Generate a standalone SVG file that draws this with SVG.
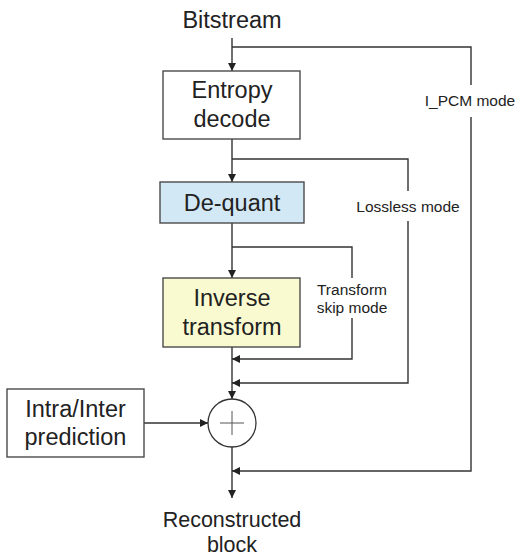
<svg xmlns="http://www.w3.org/2000/svg" width="520" height="557" viewBox="0 0 520 557">
  <style>
    .box { stroke: #4a4a4a; stroke-width: 1.4; }
    .wire { fill: none; stroke: #333; stroke-width: 1.4; }
    .big { font-family: "Liberation Sans", Arial, sans-serif; font-size: 23.5px; fill: #222; text-anchor: middle; }
    .out { font-size: 21.5px; }
    .small { font-family: "Liberation Sans", Arial, sans-serif; font-size: 15.5px; fill: #222; text-anchor: middle; }
  </style>
  <defs>
    <marker id="arrow" viewBox="0 0 10 10" refX="10" refY="5" markerWidth="8" markerHeight="8" markerUnits="userSpaceOnUse" orient="auto">
      <path d="M0,0 L10,5 L0,10 Z" fill="#222"/>
    </marker>
  </defs>
  <rect width="520" height="557" fill="#fff"/>

  <text class="big" x="232" y="28">Bitstream</text>

  <g id="connectors">
    <!-- main decoding path -->
    <line class="wire" x1="232" y1="38" x2="232" y2="71" marker-end="url(#arrow)"/>
    <line class="wire" x1="232" y1="139" x2="232" y2="182" marker-end="url(#arrow)"/>
    <line class="wire" x1="232" y1="223" x2="232" y2="278" marker-end="url(#arrow)"/>
    <line class="wire" x1="232" y1="347" x2="232" y2="399" marker-end="url(#arrow)"/>
    <line class="wire" x1="232" y1="447" x2="232" y2="498" marker-end="url(#arrow)"/>
    <!-- prediction into adder -->
    <line class="wire" x1="144" y1="423" x2="208" y2="423" marker-end="url(#arrow)"/>
    <!-- I_PCM bypass -->
    <polyline class="wire" points="232,47 471,47 471,85"/>
    <polyline class="wire" points="471,117 471,471 232,471" marker-end="url(#arrow)"/>
    <!-- lossless bypass -->
    <polyline class="wire" points="232,159 408,159 408,191"/>
    <polyline class="wire" points="408,221 408,383 232,383" marker-end="url(#arrow)"/>
    <!-- transform skip bypass -->
    <polyline class="wire" points="232,247 352,247 352,278"/>
    <polyline class="wire" points="352,318 352,359 232,359" marker-end="url(#arrow)"/>
  </g>

  <g id="entropy-decode">
    <rect class="box" x="163" y="71" width="137" height="68" fill="#fff"/>
    <text class="big" x="232" y="98">Entropy</text>
    <text class="big" x="232" y="127">decode</text>
  </g>

  <g id="de-quant">
    <rect class="box" x="160" y="182" width="144" height="41" fill="#d3e8f5"/>
    <text class="big" x="232" y="211">De-quant</text>
  </g>

  <g id="inverse-transform">
    <rect class="box" x="163" y="278" width="137" height="69" fill="#fafad0"/>
    <text class="big" x="232" y="306">Inverse</text>
    <text class="big" x="232" y="335">transform</text>
  </g>

  <g id="intra-inter-prediction">
    <rect class="box" x="7" y="389" width="137" height="68" fill="#fff"/>
    <text class="big" x="75.5" y="417">Intra/Inter</text>
    <text class="big" x="75.5" y="445">prediction</text>
  </g>

  <g id="adder">
    <circle cx="232" cy="423" r="24" fill="#fff" stroke="#333" stroke-width="1.3"/>
    <path d="M220,423 H244 M232,411 V435" stroke="#555" stroke-width="1" fill="none"/>
  </g>

  <g id="labels">
    <text class="small" x="470" y="106">I_PCM mode</text>
    <text class="small" x="408" y="212">Lossless mode</text>
    <text class="small" x="352" y="295">Transform</text>
    <text class="small" x="352" y="313">skip mode</text>
  </g>

  <text class="big out" x="232" y="527">Reconstructed</text>
  <text class="big out" x="232" y="552">block</text>
</svg>
